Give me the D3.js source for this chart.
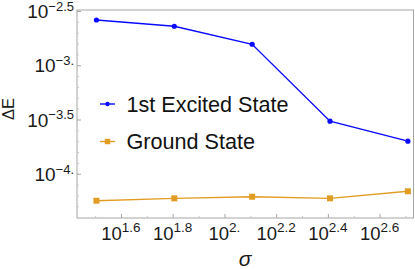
<!DOCTYPE html>
<html><head><meta charset="utf-8">
<script src="https://cdn.jsdelivr.net/npm/d3@7"></script>
<style>body{margin:0;background:#fff}svg{display:block;font-family:"Liberation Sans",Arial,sans-serif}</style>
</head><body>
<script>
const sigma = [32, 64, 128, 256, 512];
const excited = [0.002612, 0.002286, 0.001560, 0.0003048, 0.0001995];
const ground = [0.0000564, 0.0000593, 0.0000614, 0.0000593, 0.0000689];
const seriesNames = ["1st Excited State", "Ground State"];
const xTickExp = ["1.6", "1.8", "2.", "2.2", "2.4", "2.6"];
const yTickExp = ["\u22122.5", "\u22123.", "\u22123.5", "\u22124."];
const xTickVals = [1.6, 1.8, 2.0, 2.2, 2.4, 2.6];
const yTickVals = [-2.5, -3, -3.5, -4];

const W = 415, H = 269;
const L = 77, R = 413.5, T = 10, B = 218;
const svg = d3.select("body").append("svg").attr("width", W).attr("height", H);

const x = d3.scaleLog().domain([Math.pow(10, 1.430), Math.pow(10, 2.731)]).range([L, R]);
const y = d3.scaleLog().domain([Math.pow(10, -4.408), Math.pow(10, -2.491)]).range([B, T]);

// frame
svg.append("rect").attr("x", L).attr("y", T).attr("width", R - L).attr("height", B - T)
  .attr("fill", "none").attr("stroke", "#a6a6a6").attr("stroke-width", 1);

// x ticks
const xAxis = d3.axisTop(x).tickValues(xTickVals.map(v => Math.pow(10, v))).tickSize(4).tickFormat("");
const gx = svg.append("g").attr("transform", `translate(0,${B})`).call(xAxis);
gx.select(".domain").remove();
gx.selectAll("line").attr("stroke", "#a6a6a6");
const minorX = [1.5, 1.7, 1.9, 2.1, 2.3, 2.5, 2.7].map(v => Math.pow(10, v));
svg.append("g").attr("transform", `translate(0,${B})`).call(d3.axisTop(x).tickValues(minorX).tickSize(2).tickFormat(""))
  .call(g => { g.select(".domain").remove(); g.selectAll("line").attr("stroke", "#c8c8c8"); });

xTickVals.forEach((v, i) => {
  const t = svg.append("text").attr("x", x(Math.pow(10, v))).attr("y", 240)
    .attr("text-anchor", "middle").attr("font-size", 18.5).attr("fill", "#1a1a1a");
  t.append("tspan").text("10");
  t.append("tspan").attr("dy", -8).attr("font-size", 13.5).text(xTickExp[i]);
});

// y ticks
const yAxis = d3.axisRight(y).tickValues(yTickVals.map(v => Math.pow(10, v))).tickSize(4).tickFormat("");
const gy = svg.append("g").attr("transform", `translate(${L},0)`).call(yAxis);
gy.select(".domain").remove();
gy.selectAll("line").attr("stroke", "#a6a6a6");
const minorY = [-2.6,-2.7,-2.8,-2.9,-3.1,-3.2,-3.3,-3.4,-3.6,-3.7,-3.8,-3.9,-4.1,-4.2,-4.3,-4.4].map(v => Math.pow(10, v));
svg.append("g").attr("transform", `translate(${L},0)`).call(d3.axisRight(y).tickValues(minorY).tickSize(2).tickFormat(""))
  .call(g => { g.select(".domain").remove(); g.selectAll("line").attr("stroke", "#c8c8c8"); });

yTickVals.forEach((v, i) => {
  const t = svg.append("text").attr("x", 74).attr("y", y(Math.pow(10, v)) + 7.2)
    .attr("text-anchor", "end").attr("font-size", 19).attr("fill", "#1a1a1a");
  t.append("tspan").text("10");
  t.append("tspan").attr("dy", -7.2).attr("font-size", 13).text(yTickExp[i]);
});

// axis labels
svg.append("text").attr("transform", "translate(13.5,109) rotate(-90)").attr("text-anchor", "middle")
  .attr("font-size", 16.5).attr("fill", "#1a1a1a").text("\u0394E");
svg.append("text").attr("x", 245).attr("y", 266).attr("text-anchor", "middle")
  .attr("font-size", 21).attr("font-style", "italic").attr("fill", "#1a1a1a").text("\u03c3");

const line = d3.line().x(d => x(d[0])).y(d => y(d[1]));
const blue = "#0a0aff", orange = "#e19c24";
const exData = sigma.map((s, i) => [s, excited[i]]);
const grData = sigma.map((s, i) => [s, ground[i]]);

svg.append("path").datum(exData).attr("d", line).attr("fill", "none").attr("stroke", blue).attr("stroke-width", 1.4);
svg.selectAll(".ex").data(exData).enter().append("circle")
  .attr("cx", d => x(d[0])).attr("cy", d => y(d[1])).attr("r", 2.6).attr("fill", blue);

svg.append("path").datum(grData).attr("d", line).attr("fill", "none").attr("stroke", orange).attr("stroke-width", 1.4);
svg.selectAll(".gr").data(grData).enter().append("rect")
  .attr("x", d => x(d[0]) - 3).attr("y", d => y(d[1]) - 3).attr("width", 6).attr("height", 6).attr("fill", orange);

// legend
const leg = [{c: blue, shape: "c", y: 104, name: seriesNames[0]}, {c: orange, shape: "s", y: 141.5, name: seriesNames[1]}];
leg.forEach(l => {
  svg.append("line").attr("x1", 100).attr("x2", 115).attr("y1", l.y).attr("y2", l.y).attr("stroke", l.c).attr("stroke-width", 1.4);
  if (l.shape === "c") svg.append("circle").attr("cx", 107.5).attr("cy", l.y).attr("r", 2.2).attr("fill", l.c);
  else svg.append("rect").attr("x", 104.8).attr("y", l.y - 2.7).attr("width", 5.4).attr("height", 5.4).attr("fill", l.c);
  svg.append("text").attr("x", 126.5).attr("y", l.y + 7.8).attr("font-size", 21.6).attr("fill", "#111").text(l.name);
});
</script>
</body></html>
